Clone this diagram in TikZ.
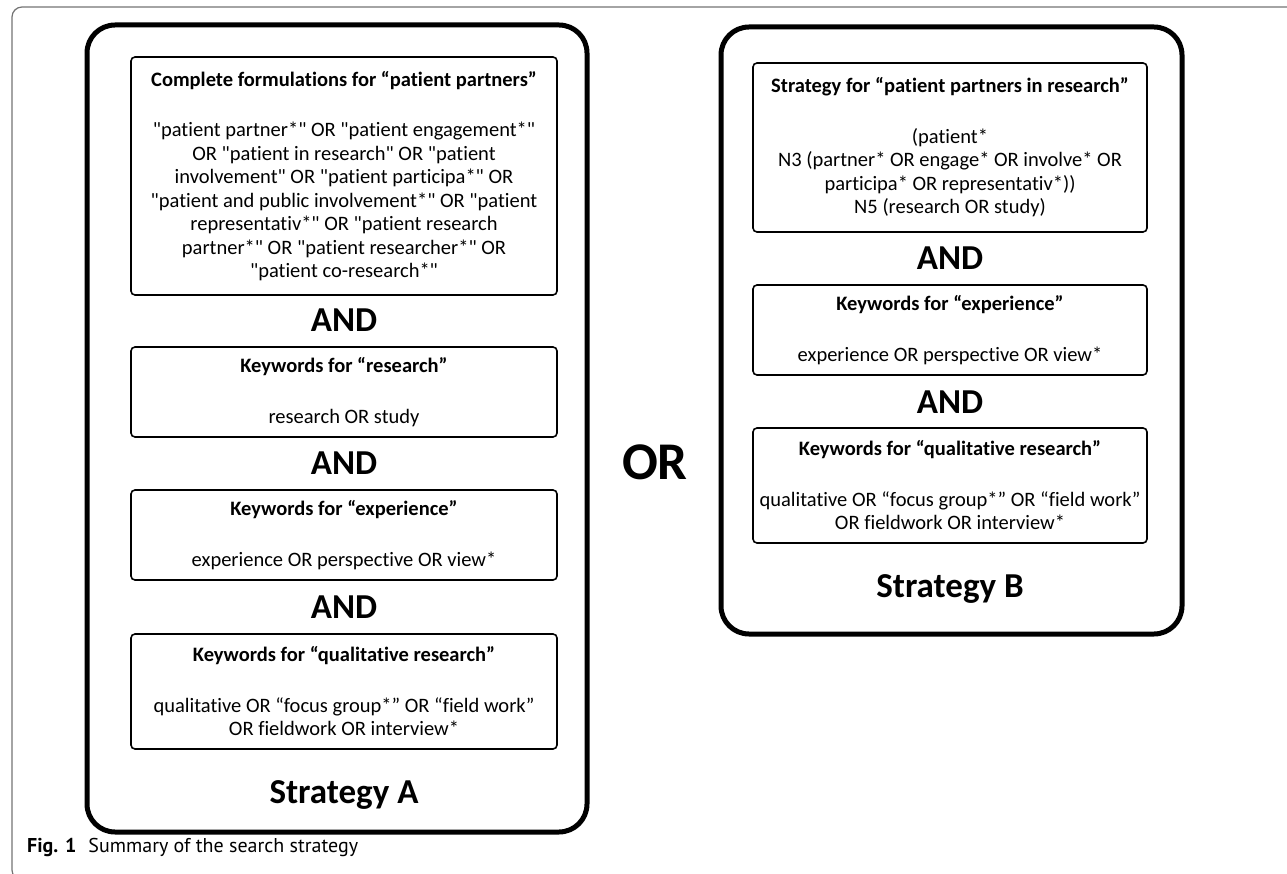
\documentclass[tikz,border=0pt]{standalone}
\usepackage{fontspec}
\newfontfamily\carlito[Ligatures={NoCommon}]{Carlito}
\newfontfamily\capfont{PT Sans}
\usepackage{tikz}

\begin{document}
\begin{tikzpicture}[x=1pt, y=-1pt,
            kbox/.style={draw, line width=1.6pt, rounded corners=4pt, align=center, inner sep=0pt,
                minimum width=426pt, font=\carlito\fontsize{20.5}{23.5}\selectfont},
            conj/.style={font=\carlito\bfseries\fontsize{35}{35}\selectfont},
            stratbox/.style={draw, line width=5pt, rounded corners=28pt, inner sep=0pt}]
            \useasboundingbox (0,0) rectangle (1287,874);
            \clip (0,0) rectangle (1287,874);
            \draw[black!55, line width=1.2pt, rounded corners=10pt] (12,7) rectangle (1300,880);

            % strategy A
            \node[stratbox, minimum width=500pt, minimum height=807pt] (stratA) at (337,428.5) {};
            \node[kbox, minimum height=238pt] (partners) at (344,176) {\textbf{Complete formulations for “patient partners”}\\[27pt]
                "patient partner*" OR "patient engagement*"\\
                OR "patient in research" OR "patient\\
                involvement" OR "patient participa*" OR\\
                "patient and public involvement*" OR "patient\\
                representativ*" OR "patient research\\
                partner*" OR "patient researcher*" OR\\
                "patient co-research*"};
            \node[conj] (andA1) at (344,320) {AND};
            \node[kbox, minimum height=90pt] (researchA) at (344,392) {\textbf{Keywords for “research”}\\[27pt]
                research OR study};
            \node[conj] (andA2) at (344,463) {AND};
            \node[kbox, minimum height=90pt] (experienceA) at (344,535) {\textbf{Keywords for “experience”}\\[27pt]
                experience OR perspective OR view*};
            \node[conj] (andA3) at (344,607) {AND};
            \node[kbox, minimum height=115pt] (qualA) at (344,691.5) {\textbf{Keywords for “qualitative research”}\\[27pt]
                qualitative OR “focus group*” OR “field work”\\
                OR fieldwork OR interview*};
            \node[conj] (labelA) at (344,795) {Strategy A};

            \node[font=\carlito\bfseries\fontsize{53}{53}\selectfont] (or) at (655,462) {OR};

            % strategy B
            \node[stratbox, minimum width=461pt, minimum height=607pt] (stratB) at (951.5,330.5) {};
            \node[kbox, minimum width=394pt, minimum height=169pt] (partnersB) at (950,147.5) {\textbf{Strategy for “patient partners in research”}\\[27pt]
                (patient*\\
                N3 (partner* OR engage* OR involve* OR\\
                participa* OR representativ*))\\
                N5 (research OR study)};
            \node[conj] (andB1) at (950,258) {AND};
            \node[kbox, minimum width=394pt, minimum height=90pt] (experienceB) at (950,330) {\textbf{Keywords for “experience”}\\[27pt]
                experience OR perspective OR view*};
            \node[conj] (andB2) at (950,402) {AND};
            \node[kbox, minimum width=394pt, minimum height=115pt] (qualB) at (950,485.5) {\textbf{Keywords for “qualitative research”}\\[27pt]
                qualitative OR “focus group*” OR “field work”\\
                OR fieldwork OR interview*};
            \node[conj] (labelB) at (950,589) {Strategy B};

            \node[anchor=west, inner sep=0pt, font=\capfont\fontsize{20}{20}\selectfont] (caption) at (27,847) {\textbf{Fig. 1}\hspace{0.6em}Summary of the search strategy};
        \end{tikzpicture}
\end{document}
